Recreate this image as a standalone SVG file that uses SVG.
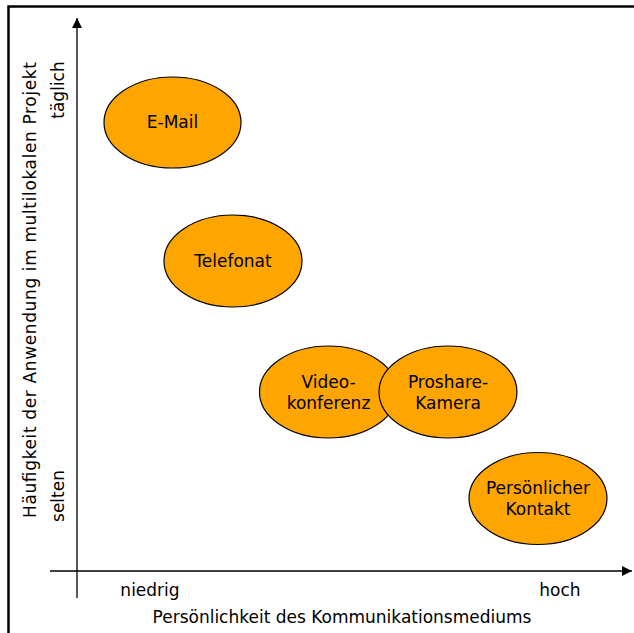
<svg xmlns="http://www.w3.org/2000/svg" width="634" height="633" viewBox="0 0 634 633">
  <style>
    text { font-family: "DejaVu Sans", Verdana, sans-serif; font-size: 17px; fill: #000; }
    .node ellipse { fill: #FFA500; stroke: #000; stroke-width: 1.2; }
    .node text { text-anchor: middle; }
    .axis { stroke: #000; stroke-width: 1.3; fill: none; }
    .frame { stroke: #000; stroke-width: 2.5; fill: none; }
  </style>
  <defs>
    <marker id="arrow" viewBox="0 0 10 10" refX="10" refY="5" markerWidth="10" markerHeight="10" markerUnits="userSpaceOnUse" orient="auto">
      <path d="M0,0 L10,5 L0,10 Z" fill="#000"/>
    </marker>
  </defs>
  <rect width="634" height="633" fill="#fff"/>
  <!-- outer frame (left and top edges) -->
  <path class="frame" d="M8.5,633 V6.5 H634"/>

  <!-- axes -->
  <g id="axes">
    <line class="axis" x1="77" y1="598" x2="77" y2="18" marker-end="url(#arrow)"/>
    <line class="axis" x1="50" y1="571" x2="632" y2="571" marker-end="url(#arrow)"/>
    <text x="150" y="596" text-anchor="middle">niedrig</text>
    <text x="560" y="596" text-anchor="middle">hoch</text>
    <text x="342" y="623" text-anchor="middle">Persönlichkeit des Kommunikationsmediums</text>
    <text transform="translate(36,290) rotate(-90)" text-anchor="middle" textLength="456" lengthAdjust="spacing">Häufigkeit der Anwendung im multilokalen Projekt</text>
    <text transform="translate(64,90) rotate(-90)" text-anchor="middle">täglich</text>
    <text transform="translate(64,496) rotate(-90)" text-anchor="middle">selten</text>
  </g>

  <g id="email" class="node">
    <ellipse cx="172.5" cy="122.5" rx="68.5" ry="45.5"/>
    <text x="172.5" y="128">E-Mail</text>
  </g>
  <g id="telefonat" class="node">
    <ellipse cx="233" cy="261" rx="69" ry="46"/>
    <text x="233" y="267">Telefonat</text>
  </g>
  <g id="videokonferenz" class="node">
    <ellipse cx="328.5" cy="392" rx="69" ry="46"/>
    <text x="328.5" y="388">Video-</text>
    <text x="328.5" y="409">konferenz</text>
  </g>
  <g id="proshare" class="node">
    <ellipse cx="448" cy="392" rx="69" ry="46"/>
    <text x="448" y="388">Proshare-</text>
    <text x="448" y="409">Kamera</text>
  </g>
  <g id="kontakt" class="node">
    <ellipse cx="538" cy="498.5" rx="69" ry="46"/>
    <text x="538" y="494">Persönlicher</text>
    <text x="538" y="515">Kontakt</text>
  </g>
</svg>
